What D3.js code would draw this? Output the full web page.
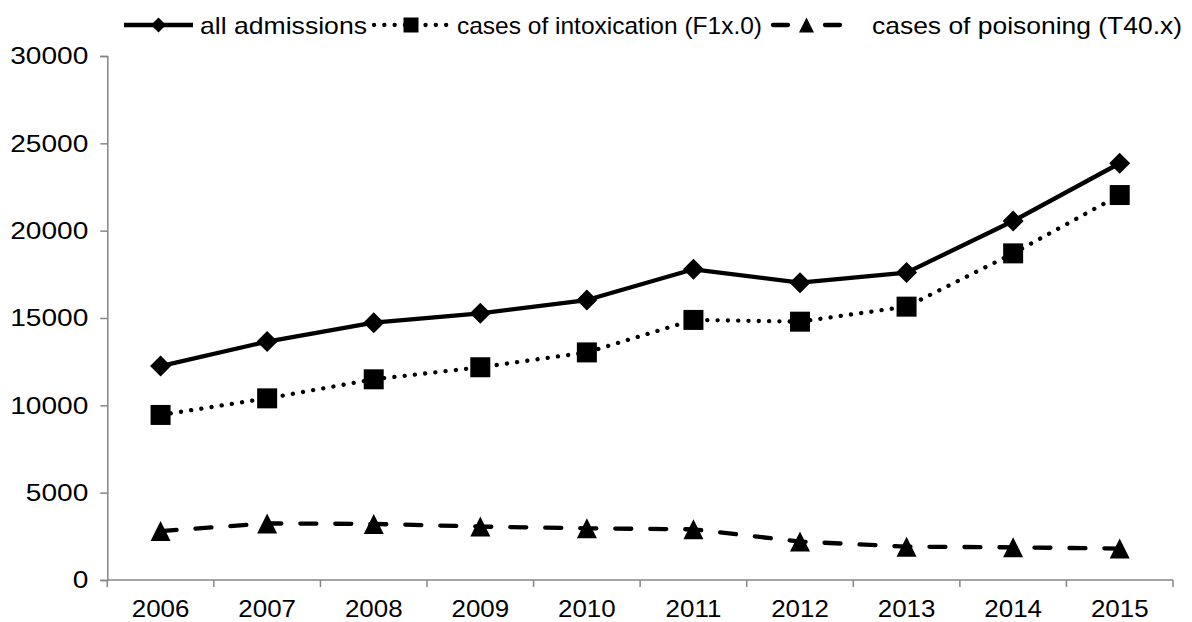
<!DOCTYPE html>
<html>
<head>
<meta charset="utf-8">
<script src="https://cdn.jsdelivr.net/npm/d3@7"></script>
<style>
  html, body { margin: 0; padding: 0; background: #fff; }
  svg text { font-family: "Liberation Sans", Arial, sans-serif; fill: #000; }
</style>
</head>
<body>
<svg id="chart" width="1192" height="622"></svg>
<script>
const years = ["2006","2007","2008","2009","2010","2011","2012","2013","2014","2015"];
const allAdmissions = [12250, 13650, 14730, 15270, 16030, 17790, 17020, 17600, 20550, 23860];
const intoxication = [9450, 10400, 11490, 12180, 13030, 14890, 14790, 15650, 18700, 22040];
const poisoning = [2800, 3240, 3210, 3060, 2960, 2900, 2200, 1910, 1870, 1800];
const yTicks = [0, 5000, 10000, 15000, 20000, 25000, 30000];
const seriesNames = ["all admissions", "cases of intoxication (F1x.0)", "cases of poisoning (T40.x)"];

(function () {
const svg = d3.select("#chart");
const mLeft = 107.3, mRight = 1173, mTop = 56, mBottom = 580;
const FS = 24, SX = 1.08, SXY = 1.17;

const x = d3.scaleBand().domain(years).range([mLeft, mRight]).paddingInner(0).paddingOuter(0);
const y = d3.scaleLinear().domain([0, 30000]).range([mBottom, mTop]);
const cx = d => x(d) + x.bandwidth() / 2;

const axisColor = "#868686";

// Y axis
const yAxis = svg.append("g").attr("transform", `translate(${mLeft},0)`)
  .call(d3.axisLeft(y).tickValues(yTicks).tickSize(7).tickPadding(12).tickFormat(d3.format("d")));
yAxis.select(".domain").attr("stroke", axisColor).attr("stroke-width", 1.5);
yAxis.selectAll(".tick line").attr("stroke", axisColor).attr("stroke-width", 1.5);
yAxis.selectAll(".tick text").attr("font-size", FS).attr("font-family", null)
  .attr("x", -19 / SXY).attr("transform", `scale(${SXY},1)`);

// X axis: line + boundary ticks
const xg = svg.append("g");
xg.append("line").attr("x1", mLeft).attr("x2", mRight).attr("y1", mBottom).attr("y2", mBottom)
  .attr("stroke", axisColor).attr("stroke-width", 1.5);
const edges = years.map(d => x(d)).concat([x.range()[1]]);
xg.selectAll("line.xt").data(edges).join("line").attr("class", "xt")
  .attr("x1", d => d).attr("x2", d => d).attr("y1", mBottom).attr("y2", mBottom + 7)
  .attr("stroke", axisColor).attr("stroke-width", 1.5);
xg.selectAll("text.xl").data(years).join("text").attr("class", "xl")
  .attr("transform", d => `translate(${cx(d)},${mBottom + 37}) scale(${SX},1)`)
  .attr("text-anchor", "middle").attr("font-size", FS).text(d => d);

// Marker shapes
const diamond = s => `M0,${-s/2}L${s/2},0L0,${s/2}L${-s/2},0Z`;
const square = s => `M${-s/2},${-s/2}h${s}v${s}h${-s}Z`;
const triangle = s => `M0,${-s/2}L${s/2},${s/2}L${-s/2},${s/2}Z`;

const series = [
  { name: seriesNames[0], values: allAdmissions, dash: null, cap: "butt", shape: diamond, size: 21 },
  { name: seriesNames[1], values: intoxication, dash: "0.1,10.2", cap: "round", shape: square, size: 20 },
  { name: seriesNames[2], values: poisoning, dash: "16,19", cap: "round", shape: triangle, size: 20 }
];

const line = d3.line().x((d, i) => cx(years[i])).y(d => y(d));

series.forEach(s => {
  svg.append("path").datum(s.values).attr("d", line)
    .attr("fill", "none").attr("stroke", "#000").attr("stroke-width", 4.3)
    .attr("stroke-linejoin", "round").attr("stroke-linecap", s.cap)
    .attr("stroke-dasharray", s.dash);
  svg.append("g").selectAll("path").data(s.values).join("path")
    .attr("transform", (d, i) => `translate(${cx(years[i])},${y(d)})`)
    .attr("d", s.shape(s.size)).attr("fill", "#000");
});

// Legend
const legendY = 25;
const legendLayout = [
  { x0: 124, x1: 193, tx: 200, tw: 167, dash: null },
  { x0: 374, x1: 448, tx: 457, tw: 305, dash: "0.1,10.2" },
  { x0: 773, x1: 840, tx: 872, tw: 310, dash: "15,37,15" }
];
const lg = svg.append("g");
series.forEach((s, i) => {
  const L = legendLayout[i];
  lg.append("line").attr("x1", L.x0).attr("x2", L.x1).attr("y1", legendY).attr("y2", legendY)
    .attr("stroke", "#000").attr("stroke-width", 4.3).attr("stroke-linecap", s.cap)
    .attr("stroke-dasharray", L.dash);
  lg.append("path").attr("transform", `translate(${(L.x0 + L.x1) / 2},${legendY})`)
    .attr("d", s.shape(15)).attr("fill", "#000");
  lg.append("text").attr("x", L.tx).attr("y", legendY + 8.5)
    .attr("textLength", L.tw).attr("lengthAdjust", "spacingAndGlyphs")
    .attr("font-size", FS).text(s.name);
});
})();
</script>
</body>
</html>
